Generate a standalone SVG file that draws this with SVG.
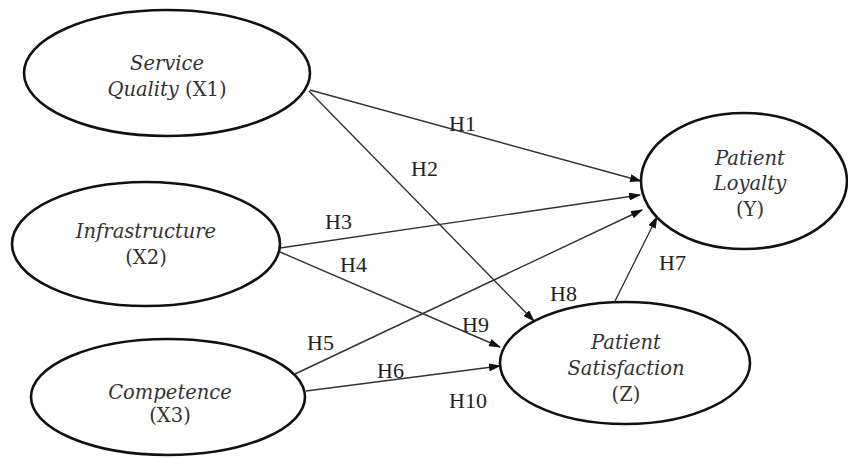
<svg xmlns="http://www.w3.org/2000/svg" width="848" height="459" viewBox="0 0 848 459">
<style>
.node ellipse{fill:#fff;stroke:#111;stroke-width:2.6}
.t{font-family:"DejaVu Serif","Liberation Serif",serif;font-size:19.5px;fill:#333;text-anchor:middle}
.i{font-style:italic}
.lbl{font-family:"Liberation Serif","Times New Roman",serif;font-size:22px;fill:#222}
.c line{stroke:#333;stroke-width:1.4;marker-end:url(#ah)}
</style>
<defs>
<marker id="ah" markerWidth="12" markerHeight="8" refX="11" refY="4" orient="auto" markerUnits="userSpaceOnUse">
<path d="M0,0 L12,4 L0,8 Z" fill="#111"/>
</marker>
</defs>
<rect width="848" height="459" fill="#fff"/>
<g id="connectors" class="c">
<line x1="310" y1="90" x2="641" y2="181"/>
<line x1="309" y1="91" x2="534" y2="321"/>
<line x1="280" y1="248" x2="640" y2="195"/>
<line x1="280" y1="252" x2="500" y2="347"/>
<line x1="295" y1="374" x2="642" y2="210"/>
<line x1="306" y1="391" x2="500" y2="366"/>
<line x1="615" y1="301" x2="657" y2="217"/>
</g>
<g id="labels">
<text class="lbl" x="449" y="131">H1</text>
<text class="lbl" x="411" y="176">H2</text>
<text class="lbl" x="325" y="229">H3</text>
<text class="lbl" x="340" y="272">H4</text>
<text class="lbl" x="307" y="350">H5</text>
<text class="lbl" x="377" y="378">H6</text>
<text class="lbl" x="659" y="270">H7</text>
<text class="lbl" x="550" y="301">H8</text>
<text class="lbl" x="462" y="332">H9</text>
<text class="lbl" x="449" y="408">H10</text>
</g>
<g id="x1" class="node">
<ellipse cx="167" cy="73" rx="143" ry="63"/>
<text class="t i" x="167" y="70">Service</text>
<text class="t" x="167" y="96"><tspan class="i">Quality</tspan> (X1)</text>
</g>
<g id="x2" class="node">
<ellipse cx="146" cy="244" rx="134" ry="62"/>
<text class="t i" x="146" y="238">Infrastructure</text>
<text class="t" x="146" y="264">(X2)</text>
</g>
<g id="x3" class="node">
<ellipse cx="168" cy="397" rx="137" ry="58"/>
<text class="t i" x="170" y="399">Competence</text>
<text class="t" x="170" y="422">(X3)</text>
</g>
<g id="y" class="node">
<ellipse cx="744" cy="181" rx="103" ry="68"/>
<text class="t i" x="750" y="165">Patient</text>
<text class="t i" x="750" y="190">Loyalty</text>
<text class="t" x="750" y="216">(Y)</text>
</g>
<g id="z" class="node">
<ellipse cx="625" cy="363" rx="125" ry="61"/>
<text class="t i" x="626" y="349">Patient</text>
<text class="t i" x="626" y="375">Satisfaction</text>
<text class="t" x="626" y="401">(Z)</text>
</g>
</svg>
